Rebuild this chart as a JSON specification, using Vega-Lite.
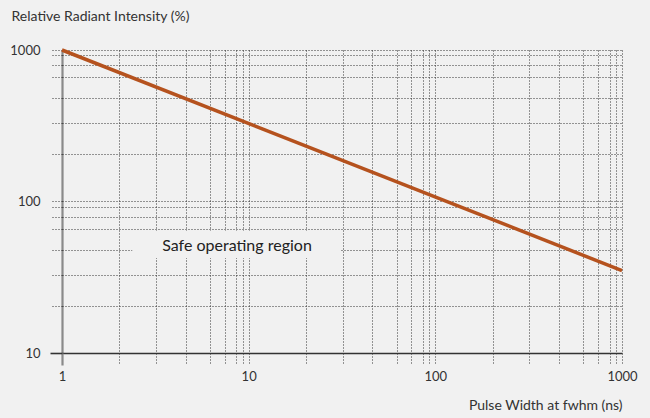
{
  "$schema": "https://vega.github.io/schema/vega-lite/v6.json",
  "autosize": "none",
  "width": 560,
  "height": 303,
  "padding": {"left": 62, "top": 50, "right": 28, "bottom": 65},
  "background": "#f1f1f1",
  "config": {
    "view": {"stroke": null},
    "font": "Lato",
    "axis": {
      "labelFont": "Lato",
      "titleFont": "Lato",
      "labelFontSize": 13,
      "titleFontSize": 14,
      "titleFontWeight": "normal",
      "labelColor": "#333333",
      "titleColor": "#333333",
      "domain": false,
      "tickSize": 12,
      "labelOverlap": false,
      "labelFlush": false
    }
  },
  "datasets": {
    "curve": [
      {"width": 1, "intensity": 1000},
      {"width": 1000, "intensity": 35}
    ],
    "box": [
      {"x1": 2.38, "x2": 31, "y1": 42.3, "y2": 64}
    ],
    "label": [
      {"width": 8.66, "intensity": 51, "text": "Safe operating region"}
    ]
  },
  "layer": [
    {
      "data": {"name": "box"},
      "mark": {"type": "rect", "fill": "#f1f1f1", "stroke": null},
      "encoding": {
        "x": {"field": "x1", "type": "quantitative", "scale": {"type": "log", "domain": [1, 1000]},
          "axis": {
            "title": "Pulse Width at fwhm (ns)",
            "titleAnchor": "end",
            "titleAlign": "right",
            "titleX": 560,
            "titleY": 56,
            "titleBaseline": "alphabetic",
            "values": [1, 2.03, 3.19, 4.59, 6.2, 7.43, 8.59, 9.3, 10, 20.3, 31.9, 45.9, 62, 74.3, 85.9, 93, 100, 203, 319, 459, 620, 743, 859, 930, 1000],
            "labelExpr": "(datum.value == 1 || datum.value == 10 || datum.value == 100 || datum.value == 1000) ? format(datum.value, 'd') : ''",
            "labelPadding": 5,
            "grid": true,
            "gridColor": {"condition": {"test": "datum.value == 1", "value": "#8a8a8a"}, "value": "#333333"},
            "gridDash": {"condition": {"test": "datum.value == 1", "value": []}, "value": [1, 2]},
            "gridWidth": {"condition": {"test": "datum.value == 1", "value": 2.2}, "value": 1},
            "tickColor": {"condition": {"test": "datum.value == 1", "value": "#8a8a8a"}, "value": "#333333"},
            "tickDash": {"condition": {"test": "datum.value == 1", "value": []}, "value": [1, 2]},
            "tickWidth": {"condition": {"test": "datum.value == 1", "value": 2.2}, "value": 1}
          }
        },
        "x2": {"field": "x2"},
        "y": {"field": "y1", "type": "quantitative", "scale": {"type": "log", "domain": [10, 1000]},
          "axis": {
            "title": "Relative Radiant Intensity (%)",
            "titleAngle": 0,
            "titleAlign": "left",
            "titleBaseline": "alphabetic",
            "titleX": -51,
            "titleY": -30,
            "values": [10, 20.5, 32.9, 48.1, 66.1, 79.6, 92.3, 100, 205, 329, 481, 661, 796, 923, 1000],
            "labelExpr": "(datum.value == 10 || datum.value == 100 || datum.value == 1000) ? format(datum.value, 'd') : ''",
            "labelPadding": 10,
            "grid": true,
            "gridColor": "#333333",
            "gridDash": {"condition": {"test": "datum.value == 10", "value": []}, "value": [1, 2]},
            "gridWidth": {"condition": {"test": "datum.value == 10", "value": 1.6}, "value": 1},
            "tickColor": "#333333",
            "tickDash": {"condition": {"test": "datum.value == 10", "value": []}, "value": [1, 2]},
            "tickWidth": {"condition": {"test": "datum.value == 10", "value": 1.6}, "value": 1}
          }
        },
        "y2": {"field": "y2"}
      }
    },
    {
      "data": {"name": "curve"},
      "mark": {"type": "line", "color": "#b5521e", "strokeWidth": 3.5},
      "encoding": {
        "x": {"field": "width", "type": "quantitative"},
        "y": {"field": "intensity", "type": "quantitative"}
      }
    },
    {
      "data": {"name": "label"},
      "mark": {"type": "text", "font": "Lato", "fontSize": 16, "color": "#222222", "align": "center", "baseline": "middle"},
      "encoding": {
        "x": {"field": "width", "type": "quantitative"},
        "y": {"field": "intensity", "type": "quantitative"},
        "text": {"field": "text"}
      }
    }
  ]
}
